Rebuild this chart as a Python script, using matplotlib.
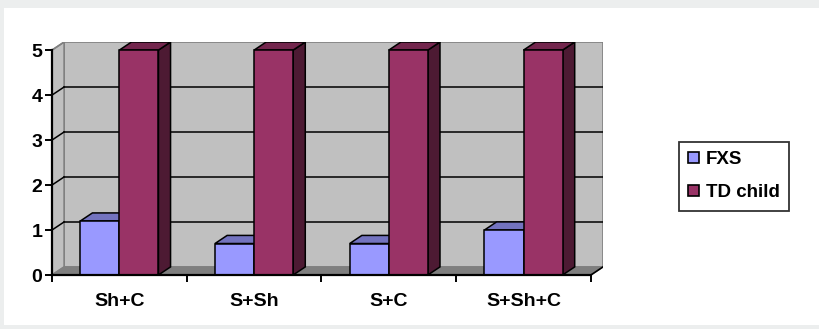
import matplotlib
matplotlib.use("Agg")
import matplotlib.pyplot as plt
from matplotlib.patches import Polygon, Rectangle

plt.rcParams['font.family'] = ['Liberation Sans', 'DejaVu Sans']

categories = ["Sh+C", "S+Sh", "S+C", "S+Sh+C"]
series_names = ["FXS", "TD child"]
fxs_values = [1.2, 0.7, 0.7, 1.0]
td_values = [5, 5, 5, 5]
y_ticks = [0, 1, 2, 3, 4, 5]

front_cols = ["#9999ff", "#993366"]
top_cols = ["#7373bf", "#73264d"]
side_cols = ["#5c5c99", "#4d1a33"]

W, H = 820, 329
fig = plt.figure(figsize=(W / 100, H / 100), dpi=100)
fig.patch.set_facecolor("white")

# light frame around the chart area
fig.patches.append(Rectangle((0, 1 - 8 / H), 1, 8 / H, transform=fig.transFigure,
                             facecolor="#eceeee", edgecolor="none", zorder=0))
fig.patches.append(Rectangle((0, 0), 4 / W, 1, transform=fig.transFigure,
                             facecolor="#eceeee", edgecolor="none", zorder=0))
fig.patches.append(Rectangle((0, 0), 1, 4 / H, transform=fig.transFigure,
                             facecolor="#eceeee", edgecolor="none", zorder=0))

# plot area in figure pixels
left_px, right_px, bottom_px, top_px = 52, 603, 275, 42
ax = fig.add_axes([left_px / W, 1 - bottom_px / H,
                   (right_px - left_px) / W, (bottom_px - top_px) / H])

n = len(categories)
ymax = 5
dx = 0.09   # depth offset in category units
dy = 0.18   # depth offset in value units
x0, x1 = -0.5, n - 0.5
ax.set_xlim(x0, x1 + dx)
ax.set_ylim(0, ymax + dy)
ax.set_facecolor("none")

wall_grey = "#c0c0c0"
edge_grey = "#808080"

# back wall
ax.add_patch(Rectangle((x0 + dx, dy), (x1 - x0), ymax, facecolor=wall_grey,
                       edgecolor=edge_grey, lw=1.2, zorder=1))
# side wall
ax.add_patch(Polygon([(x0, 0), (x0 + dx, dy), (x0 + dx, ymax + dy), (x0, ymax)],
                     closed=True, facecolor=wall_grey, edgecolor=edge_grey, lw=1.2, zorder=1))
# floor
ax.add_patch(Polygon([(x0, 0), (x1, 0), (x1 + dx, dy), (x0 + dx, dy)],
                     closed=True, facecolor="#7f7f7f", edgecolor=edge_grey, lw=1.0, zorder=1))
ax.plot([x1, x1 + dx], [0, dy], color="black", lw=1.2, zorder=2)

# gridlines on back and side walls
for t in y_ticks[1:-1]:
    ax.plot([x0 + dx, x1 + dx], [t + dy, t + dy], color="black", lw=1.1, zorder=2)
    ax.plot([x0, x0 + dx], [t, t + dy], color="black", lw=1.1, zorder=2)
ax.plot([x0, x0 + dx], [ymax, ymax + dy], color=edge_grey, lw=1.0, zorder=2)

# 3-D bars
bar_w = 0.29
values = [fxs_values, td_values]
z = 3
for i in range(n):
    start = i - bar_w
    for s, vals in enumerate(values):
        v = vals[i]
        bx = start + s * bar_w
        ax.add_patch(Polygon([(bx + bar_w, 0), (bx + bar_w + dx, dy),
                              (bx + bar_w + dx, v + dy), (bx + bar_w, v)],
                             closed=True, facecolor=side_cols[s], edgecolor="black",
                             lw=1.1, zorder=z))
        ax.add_patch(Polygon([(bx, v), (bx + bar_w, v), (bx + bar_w + dx, v + dy),
                              (bx + dx, v + dy)],
                             closed=True, facecolor=top_cols[s], edgecolor="black",
                             lw=1.1, zorder=z))
        ax.add_patch(Rectangle((bx, 0), bar_w, v, facecolor=front_cols[s],
                               edgecolor="black", lw=1.1, zorder=z))
        z += 1

# axes lines and ticks
for side in ["top", "right"]:
    ax.spines[side].set_visible(False)
ax.spines["left"].set_bounds(0, ymax)
ax.spines["bottom"].set_bounds(x0, x1)
ax.spines["left"].set_linewidth(1.6)
ax.spines["bottom"].set_linewidth(1.6)
ax.spines["left"].set_zorder(20)
ax.spines["bottom"].set_zorder(20)

ax.set_yticks(y_ticks)
ax.set_yticklabels([str(t) for t in y_ticks], fontsize=14, fontweight="bold")
ax.tick_params(axis="y", length=5, width=1.4, pad=2)

ax.set_xticks(range(n))
ax.set_xticklabels(categories, fontsize=14, fontweight="bold")
ax.set_xticks([x0 + k for k in range(n + 1)], minor=True)
ax.tick_params(axis="x", which="major", length=0, pad=13)
ax.tick_params(axis="x", which="minor", length=5, width=1.4)

# legend
handles = [Rectangle((0, 0), 1, 1, facecolor=front_cols[s], edgecolor="black", lw=1.2)
           for s in range(2)]
leg = fig.legend(handles, series_names, loc="upper left",
                 bbox_to_anchor=(679 / W, 1 - 142 / H),
                 prop={"size": 13.5, "weight": "bold"}, frameon=True, fancybox=False,
                 handlelength=0.55, handleheight=0.55, handletextpad=0.4,
                 labelspacing=0.85, borderpad=0.5, borderaxespad=0)
leg.get_frame().set_edgecolor("black")
leg.get_frame().set_linewidth(1.3)

fig.savefig("out.png", dpi=100, facecolor=fig.get_facecolor())
